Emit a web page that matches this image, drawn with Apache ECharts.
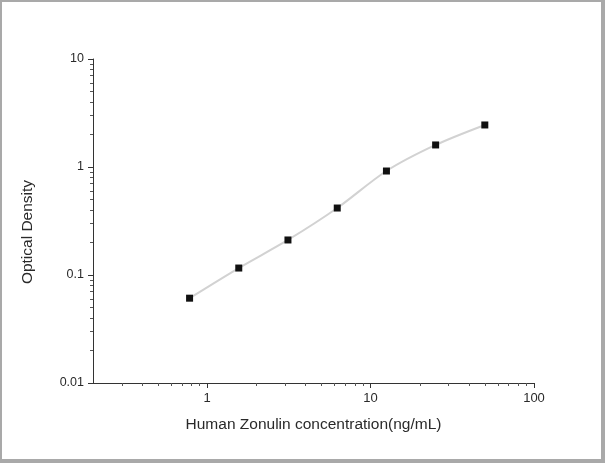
<!DOCTYPE html>
<html>
<head>
<meta charset="utf-8">
<script src="https://cdn.jsdelivr.net/npm/echarts@6/dist/echarts.min.js"></script>
<style>
html,body{margin:0;padding:0;background:#fff;}
#c{width:605px;height:463px;position:absolute;left:0;top:0;}
#frame{position:absolute;left:0;top:0;width:605px;height:463px;box-sizing:border-box;border-style:solid;border-color:#a9a9a9;border-width:2px 4px 4px 2px;pointer-events:none;}
</style>
</head>
<body>
<div id="c"></div>
<div id="frame"></div>
<script>
const concentrations = [0.78, 1.56, 3.12, 6.25, 12.5, 25, 50];
const opticalDensity = [0.061, 0.116, 0.211, 0.417, 0.918, 1.60, 2.45];
const xTickLabels = [1, 10, 100];
const yTickLabels = [0.01, 0.1, 1, 10];
const xMinorTicks = [0.3,0.4,0.5,0.6,0.7,0.8,0.9,2,3,4,5,6,7,8,9,20,30,40,50,60,70,80,90];
const yMinorTicks = [0.02,0.03,0.04,0.05,0.06,0.07,0.08,0.09,0.2,0.3,0.4,0.5,0.6,0.7,0.8,0.9,2,3,4,5,6,7,8,9];

const chart = echarts.init(document.getElementById('c'), null, {renderer:'canvas'});
const font = 'Liberation Sans, Arial, sans-serif';
const pts = concentrations.map((x,i)=>[x, opticalDensity[i]]);
const grid = {left:93, right:71, top:59, bottom:80};
chart.setOption({
  animation:false,
  backgroundColor:'#fff',
  grid: grid,
  xAxis: [{
    type:'log', min:0.2, max:100, logBase:10,
    name:'Human Zonulin concentration(ng/mL)', nameLocation:'middle', nameGap:34,
    nameTextStyle:{fontFamily:font, fontSize:15.5, color:'#2a2a2a'},
    axisLine:{lineStyle:{color:'#333', width:1}},
    axisTick:{customValues:xTickLabels, length:5, lineStyle:{color:'#333'}},
    axisLabel:{customValues:xTickLabels, fontFamily:font, fontSize:13, color:'#2a2a2a', margin:9},
    splitLine:{show:false}
  },{
    type:'log', min:0.2, max:100, logBase:10, position:'bottom',
    axisLine:{show:false},
    axisTick:{customValues:xMinorTicks, length:3, lineStyle:{color:'#555'}},
    axisLabel:{show:false},
    splitLine:{show:false}
  }],
  yAxis: [{
    type:'log', min:0.01, max:10, logBase:10,
    name:'Optical Density', nameLocation:'middle', nameGap:57,
    nameTextStyle:{fontFamily:font, fontSize:15.5, color:'#2a2a2a', padding:[0,22,0,0]},
    axisLine:{lineStyle:{color:'#333', width:1}},
    axisTick:{customValues:yTickLabels, length:5, lineStyle:{color:'#333'}},
    axisLabel:{customValues:yTickLabels, fontFamily:font, fontSize:12.5, color:'#2a2a2a', margin:9,
      formatter: v => String(v)},
    splitLine:{show:false}
  },{
    type:'log', min:0.01, max:10, logBase:10, position:'left',
    axisLine:{show:false},
    axisTick:{customValues:yMinorTicks, length:3, lineStyle:{color:'#555'}},
    axisLabel:{show:false},
    splitLine:{show:false}
  }],
  series: [{
    type:'line', data:pts, smooth:0.3,
    symbol:'rect', symbolSize:7,
    itemStyle:{color:'#111'},
    lineStyle:{color:'#d2d2d2', width:2}
  }]
});
</script>
</body>
</html>
